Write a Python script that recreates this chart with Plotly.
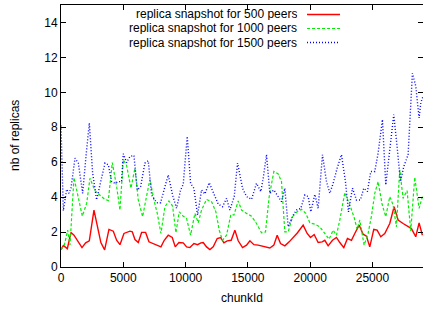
import plotly.graph_objects as go

# ---------------- data ----------------
names = ["replica snapshot for 500 peers",
         "replica snapshot for 1000 peers",
         "replica snapshot for 1500 peers"]

x_500 = [0, 187, 508, 802, 1043, 1685, 1979, 2273, 2647, 2995, 3200, 3503, 3850, 4198,
         4466, 4733, 5054, 5535, 5722, 5936, 6204, 6471, 6792, 7059, 7540, 8022, 8289,
         8610, 8931, 9172, 9466, 9814, 10081, 10348, 10669, 10963, 11231, 11418, 11685,
         11953, 12220, 12541, 12808, 13076, 13343, 13664, 13958, 14226, 14573, 14894,
         15162, 15483, 15830, 16231, 16499, 16766, 17087, 17354, 17622, 17969, 18317,
         18638, 18986, 19440, 19761, 20028, 20322, 20643, 20964, 21178, 21446, 21793,
         22114, 22381, 22702, 22996, 23317, 23584, 23932, 24252, 24520, 24788, 25109,
         25376, 25670, 25991, 26392, 26740, 27061, 27462, 27783, 28131, 28479, 28746,
         29013]
y_500 = [1.0, 1.23, 1.05, 1.98, 1.82, 1.11, 1.38, 1.5, 3.26, 2.2, 1.4, 0.98, 2.15, 2.05,
         1.53, 1.28, 1.92, 2.05, 2.01, 1.57, 1.4, 1.98, 1.98, 1.44, 1.28, 1.15, 1.53,
         1.82, 1.69, 1.15, 1.4, 1.38, 1.15, 1.11, 1.34, 1.28, 1.38, 1.4, 1.15,
         1.0, 1.15, 1.63, 1.69, 1.38, 1.5, 1.53, 2.11, 1.5, 1.11, 1.25,
         1.5, 1.28, 1.25, 1.19, 1.15, 1.09, 1.25, 1.82, 1.34, 1.21, 1.44,
         1.69, 1.96, 2.4, 1.92, 1.69, 1.86, 1.4, 1.44, 1.53, 1.21, 1.53,
         1.69, 1.4, 1.11, 1.63, 1.53, 1.92, 2.4, 1.88, 1.76, 1.15, 2.15,
         2.11, 1.73, 1.92, 2.49, 3.45, 2.69, 2.49, 2.34, 2.2, 1.73, 2.53,
         1.82]

x_1000 = [0, 267, 535, 722, 1043, 1390, 1711, 2059, 2326, 2727, 3129, 3476, 3797, 4118,
          4466, 4733, 5000, 5268, 5615, 5936, 6204, 6551, 6819, 7140, 7460, 7728, 8022,
          8343, 8664, 8958, 9225, 9493, 9814, 10081, 10402, 10749, 11017, 11284, 11685,
          12086, 12434, 12702, 12969, 13290, 13638, 13878, 14226, 14493, 14894, 15295,
          15696, 16097, 16418, 16713, 17087, 17435, 17702, 17969, 18237, 18584, 18905,
          19306, 19654, 19975, 20376, 20777, 21178, 21526, 21847, 22114, 22381, 22783,
          23184, 23531, 23772, 23986, 24333, 24654, 24922, 25189, 25456, 25777, 26072,
          26392, 26660, 26927, 27194, 27462, 27783, 28077, 28398, 28746, 29013]
y_1000 = [1.0, 1.25, 2.11, 1.25, 5.12, 4.03, 2.91, 3.64, 5.08, 4.37, 4.12, 3.89, 3.8, 5.98,
          4.6, 3.26, 6.14, 5.81, 4.51, 5.66, 3.84, 2.88, 3.87, 5.02, 3.84, 3.07, 1.92,
          3.45, 3.78, 3.49, 1.96, 3.16, 2.91, 2.78, 1.82, 3.07, 2.53, 3.26, 3.87,
          3.74, 3.16, 2.11, 1.53, 1.82, 3.01, 2.97, 3.78, 3.26, 3.07, 2.91,
          2.49, 1.96, 2.01, 4.03, 5.47, 5.33, 4.89, 2.01, 2.01, 2.88, 3.13,
          3.3, 3.07, 2.53, 2.45, 2.3, 1.92, 1.59, 2.11, 1.82, 2.69, 4.26,
          3.55, 2.84, 2.15, 2.69, 1.25, 1.92, 2.91, 4.22, 4.89, 3.59, 2.88,
          4.03, 3.55, 2.3, 5.56, 3.93, 4.37, 2.07, 5.14, 3.36, 4.03]

x_1500 = [0, 187, 455, 642, 802, 1123, 1390, 1738, 2006, 2273, 2540, 2861, 3129, 3530,
          3797, 4064, 4332, 4599, 4867, 5000, 5268, 5535, 5856, 6123, 6391, 6738, 7006,
          7273, 7674, 7995, 8343, 8610, 8958, 9279, 9600, 9814, 10134, 10402, 10669,
          10963, 11284, 11552, 11899, 12220, 12621, 12969, 13290, 13557, 13905, 14172,
          14573, 14894, 15295, 15696, 16044, 16231, 16499, 16766, 17087, 17435, 17702,
          17969, 18237, 18584, 18905, 19253, 19574, 19841, 20055, 20376, 20643, 20991,
          21312, 21580, 21847, 22168, 22515, 22836, 23077, 23398, 23718, 24039, 24307,
          24601, 24868, 25189, 25456, 25804, 26072, 26392, 26713, 26981, 27249, 27516,
          27864, 28211, 28479, 28746, 28880, 29067]
y_1500 = [8.1, 3.22, 4.45, 4.22, 4.51, 6.23, 5.95, 4.22, 6.33, 8.25, 5.37, 3.84, 4.7, 5.95,
          5.85, 4.89, 4.79, 4.89, 4.89, 6.48, 5.98, 6.33, 6.39, 4.41, 4.6, 5.95, 6.08,
          4.12, 3.68, 3.68, 4.6, 5.27, 4.12, 3.36, 4.41, 4.74, 7.48, 4.79, 4.51,
          2.97, 4.41, 4.18, 4.83, 4.32, 3.6, 3.45, 3.93, 3.26, 4.03, 5.95,
          4.51, 4.03, 3.87, 4.79, 4.32, 5.08, 6.43, 4.22, 4.41, 4.03, 3.74,
          4.51, 2.3, 2.91, 3.26, 3.36, 4.12, 4.03, 3.16, 4.16, 3.36, 6.43,
          4.89, 4.22, 4.79, 5.66, 6.43, 4.89, 3.16, 4.51, 3.84, 3.84, 4.51,
          4.32, 5.47, 5.47, 6.52, 8.44, 4.7, 6.71, 8.73, 6.9, 4.89, 5.75,
          6.43, 11.09, 10.36, 8.53, 9.4, 9.78]

x_ticks = [0, 5000, 10000, 15000, 20000, 25000]
x_tick_labels = ["0", "5000", "10000", "15000", "20000", "25000"]
y_ticks = [0, 2, 4, 6, 8, 10, 12, 14]
y_tick_labels = ["0", "2", "4", "6", "8", "10", "12", "14"]
x_title = "chunkId"
y_title = "nb of replicas"

# ---------------- styling ----------------
colors = ["#ff0000", "#00ee00", "#0000ff"]
dashes = ["solid", "3px,2px", "1px,2px"]
widths = [1.4, 1.2, 1.4]
FONT = "Liberation Sans, Arial, Helvetica, sans-serif"

W, H = 423, 312
ML, MR, MT, MB = 61, 0, 5, 45

fig = go.Figure()
for xs, ys, nm, c, d, w in zip([x_500, x_1000, x_1500], [y_500, y_1000, y_1500],
                               names, colors, dashes, widths):
    fig.add_trace(go.Scatter(x=xs, y=ys, name=nm, mode="lines",
                             line=dict(color=c, dash=d, width=w)))

# manual gnuplot-style key: text right-aligned, sample line to its right
pw = W - ML - MR
ph = H - MT - MB
row_px = [14.5, 28.5, 42.5]
text_right_px = 298
line_px = (307, 340)
annotations = []
shapes = []
for nm, c, d, w, ry in zip(names, colors, dashes, widths, row_px):
    yp = (H - MB - ry) / ph
    annotations.append(dict(x=(text_right_px - ML) / pw, y=yp, xref="paper", yref="paper",
                            text=nm, showarrow=False, xanchor="right", yanchor="middle",
                            height=12, borderpad=0, valign="middle",
                            font=dict(family=FONT, size=12, color="#000")))
    shapes.append(dict(type="line", xref="paper", yref="paper",
                       x0=(line_px[0] - ML) / pw, x1=(line_px[1] - ML) / pw, y0=yp, y1=yp,
                       line=dict(color=c, dash=d, width=w)))

annotations.append(dict(x=0.5, y=(H - MB - 298) / ph, xref="paper", yref="paper",
                        text=x_title, showarrow=False, xanchor="center", yanchor="middle",
                        font=dict(family=FONT, size=12, color="#000")))
annotations.append(dict(x=(15 - ML) / pw, y=0.5, xref="paper", yref="paper",
                        text=y_title, showarrow=False, xanchor="center", yanchor="middle",
                        textangle=-90, font=dict(family=FONT, size=12, color="#000")))

fig.update_layout(
    width=W, height=H,
    margin=dict(l=ML, r=MR, t=MT, b=MB, pad=0),
    paper_bgcolor="white", plot_bgcolor="white",
    showlegend=False,
    font=dict(family=FONT, size=12, color="#000"),
    annotations=annotations, shapes=shapes,
    xaxis=dict(range=[0, 29060], tickvals=x_ticks, ticktext=x_tick_labels,
               ticks="inside", ticklen=5,
               tickcolor="#000", showline=True, linecolor="#000", linewidth=1,
               mirror="allticks", showgrid=False, zeroline=False,
               tickfont=dict(family=FONT, size=12, color="#000")),
    yaxis=dict(range=[0, 15], tickvals=y_ticks, ticktext=y_tick_labels,
               ticks="inside", ticklen=5,
               tickcolor="#000", showline=True, linecolor="#000", linewidth=1,
               mirror="allticks", showgrid=False, zeroline=False,
               tickfont=dict(family=FONT, size=12, color="#000")),
)

fig.write_html("out.html",
               config={"displayModeBar": False},
               post_script="document.body.style.margin='0';"
                           "document.body.style.overflow='hidden';")
